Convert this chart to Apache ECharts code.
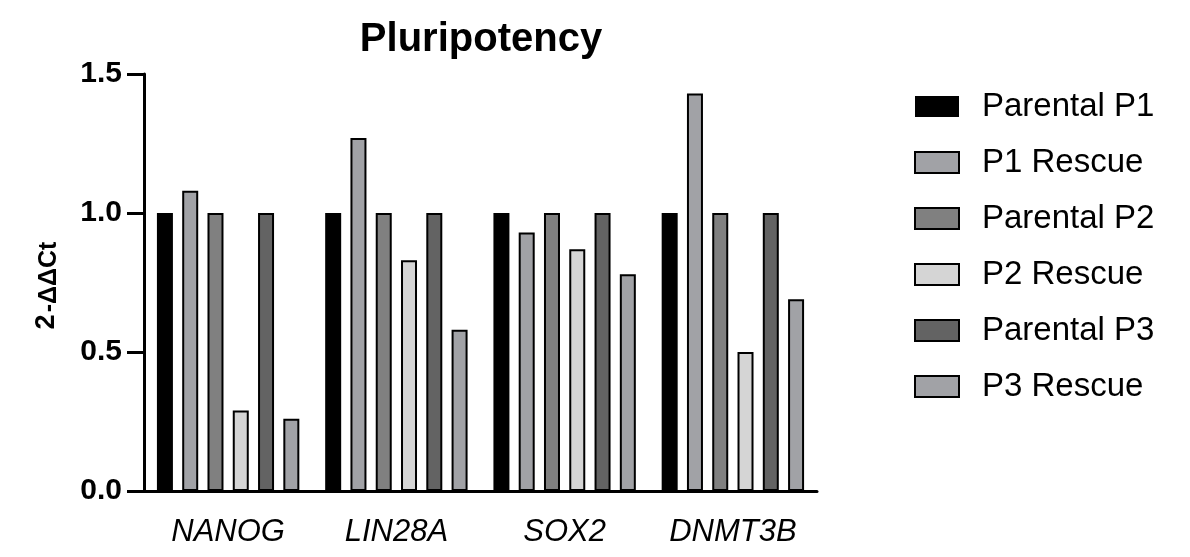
<!DOCTYPE html>
<html>
<head>
<meta charset="utf-8">
<script src="https://cdn.jsdelivr.net/npm/echarts@6/dist/echarts.min.js"></script>
<style>
html,body{margin:0;padding:0;background:#fff;}
#chart{width:1190px;height:557px;}
</style>
</head>
<body>
<div id="chart"></div>
<script>
const categories = ['NANOG', 'LIN28A', 'SOX2', 'DNMT3B'];
const seriesNames = ['Parental P1', 'P1 Rescue', 'Parental P2', 'P2 Rescue', 'Parental P3', 'P3 Rescue'];
const parentalP1 = [1.0, 1.0, 1.0, 1.0];
const p1Rescue = [1.08, 1.27, 0.93, 1.43];
const parentalP2 = [1.0, 1.0, 1.0, 1.0];
const p2Rescue = [0.29, 0.83, 0.87, 0.50];
const parentalP3 = [1.0, 1.0, 1.0, 1.0];
const p3Rescue = [0.26, 0.58, 0.78, 0.69];
const yTicks = [0, 0.5, 1.0, 1.5];
const yTitleBase = '2';
const yTitleSup = '-ΔΔCt';

const seriesData = [parentalP1, p1Rescue, parentalP2, p2Rescue, parentalP3, p3Rescue];
const fills = ['#000000', '#a1a2a6', '#808080', '#d5d5d5', '#636363', '#a1a2a6'];
const FONT = '"Liberation Sans", Arial, sans-serif';

const chart = echarts.init(document.getElementById('chart'), null, {renderer: 'canvas'});
chart.setOption({
  animation: false,
  backgroundColor: '#ffffff',
  title: {
    text: 'Pluripotency',
    left: 476,
    top: 15,
    textAlign: 'center',
    textStyle: {fontFamily: FONT, fontSize: 40, fontWeight: 'bold', color: '#000'}
  },
  legend: {
    orient: 'vertical',
    left: 909,
    top: 85,
    icon: 'rect',
    itemWidth: 44,
    itemHeight: 21,
    itemGap: 23,
    data: seriesNames,
    textStyle: {fontFamily: FONT, fontSize: 33, color: '#000', padding: [0, 0, 0, 18]}
  },
  graphic: [{
    type: 'text',
    x: 47,
    y: 322,
    rotation: Math.PI / 2,
    style: {
      text: yTitleBase,
      fontFamily: FONT, fontSize: 27, fontWeight: 'bold',
      align: 'center', verticalAlign: 'middle', fill: '#000'
    }
  }, {
    type: 'text',
    x: 49,
    y: 277,
    rotation: Math.PI / 2,
    style: {
      text: yTitleSup,
      fontFamily: FONT, fontSize: 25, fontWeight: 'bold',
      align: 'center', verticalAlign: 'middle', fill: '#000'
    }
  }],
  grid: {left: 144, right: 373, top: 74, bottom: 66, containLabel: false},
  xAxis: {
    type: 'category',
    data: categories,
    axisLine: {lineStyle: {color: '#000', width: 3}},
    axisTick: {alignWithLabel: true, length: 14, lineStyle: {color: '#000', width: 3}},
    axisLabel: {fontFamily: FONT, fontSize: 31, fontStyle: 'italic', color: '#000', margin: 26}
  },
  yAxis: {
    type: 'value',
    min: yTicks[0],
    max: yTicks[yTicks.length - 1],
    interval: 0.5,
    axisLine: {show: true, lineStyle: {color: '#000', width: 3}},
    axisTick: {show: true, length: 17, lineStyle: {color: '#000', width: 3}},
    splitLine: {show: false},
    axisLabel: {
      fontFamily: FONT, fontSize: 30, fontWeight: 'bold', color: '#000', margin: 22,
      formatter: v => v.toFixed(1)
    }
  },
  series: seriesNames.map((name, i) => ({
    name: name,
    type: 'bar',
    data: seriesData[i],
    barWidth: 16,
    barGap: '58%',
    itemStyle: {color: fills[i], borderColor: '#000', borderWidth: i === 0 ? 0 : 2}
  }))
});
</script>
</body>
</html>
